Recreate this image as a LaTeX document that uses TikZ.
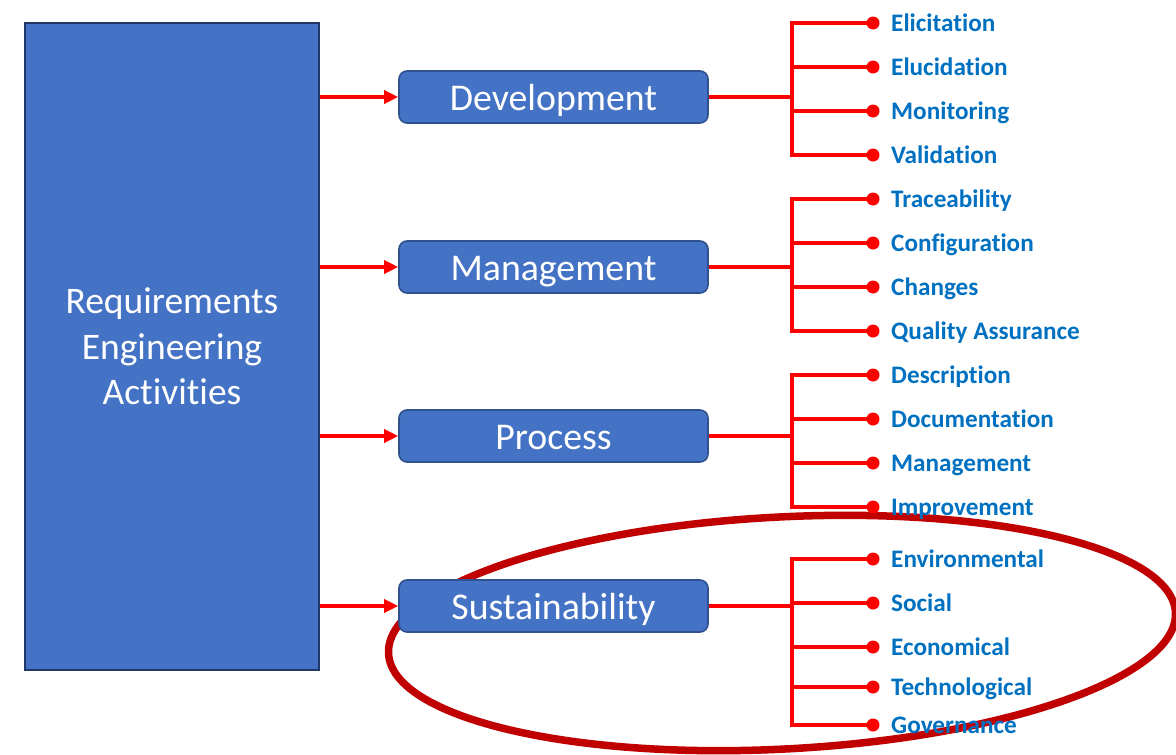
\documentclass[tikz,border=0pt]{standalone}
\usepackage{fontspec}
\setmainfont{Carlito}[Ligatures={NoCommon,NoContextual,NoRare}, Contextuals={NoAlternate}]
\usetikzlibrary{arrows.meta}
\definecolor{boxblue}{HTML}{4472C4}
\definecolor{boxedge}{HTML}{2F528F}
\definecolor{bigedge}{HTML}{1F3864}
\definecolor{leafblue}{HTML}{0070C0}
\definecolor{ringred}{HTML}{C00000}
\definecolor{linered}{HTML}{FF0000}
\tikzset{
  bigbox/.style={draw=bigedge, line width=2.4pt, fill=boxblue, text=white, minimum width=294, minimum height=647, inner sep=0pt, align=center, font=\fontsize{37.5}{45.5}\selectfont},
  midbox/.style={draw=boxedge, line width=1.6pt, fill=boxblue, text=white, rounded corners=8pt, minimum width=309, minimum height=52, inner sep=0pt, text height=30pt, text depth=3.4pt, font=\fontsize{37.8}{40}\selectfont},
  arr/.style={draw=linered, line width=3.4pt, -{Triangle[length=14pt,width=13pt]}},
  br/.style={draw=linered, line width=3.2pt},
  dot/.style={circle, fill=linered, minimum size=13pt, inner sep=0pt},
  leaf/.style={anchor=west, text=leafblue, inner sep=0pt, text height=18pt, text depth=2pt, font=\fontsize{25.2}{28}\selectfont\bfseries},
  ring/.style={draw=ringred, line width=7.5pt},
}
\begin{document}
\begin{tikzpicture}[x=1pt, y=-1pt]
\useasboundingbox (0,0) rectangle (1176,755);
% ring
\draw[ring, rotate around={3:(782,633)}] (782,633) ellipse [x radius=394, y radius=116];
% main box
\node[bigbox] (req) at (172,346.5) {Requirements\\Engineering\\Activities};
% middle boxes
\node[midbox] (dev) at (553.5,97) {Development};
\node[midbox] (man) at (553.5,267) {Management};
\node[midbox] (pro) at (553.5,436) {Process};
\node[midbox] (sus) at (553.5,606) {Sustainability};
% arrows
\foreach \b in {dev,man,pro,sus}{
  \draw[arr] (req.east |- \b.west) -- (\b.west);
}
% junctions
\coordinate (jdev) at (792,97);
\coordinate (jman) at (792,267);
\coordinate (jpro) at (792,436);
\coordinate (jsus) at (792,606);
\foreach \b in {dev,man,pro,sus}{
  \draw[br] (\b.east) -- (j\b);
}
% leaves
\foreach \g/\i/\y/\t in {
  dev/1/23/Elicitation, dev/2/67/Elucidation, dev/3/111/Monitoring, dev/4/155/Validation,
  man/1/199/Traceability, man/2/243/Configuration, man/3/287/Changes, man/4/331/Quality Assurance,
  pro/1/375/Description, pro/2/419/Documentation, pro/3/463/Management, pro/4/507/Improvement,
  sus/1/559/Environmental, sus/2/603/Social, sus/3/647/Economical, sus/4/687/Technological, sus/5/725/Governance}{
  \node[dot] (d\g\i) at (873,\y) {};
  \node[leaf] (l\g\i) at (891,\y) {\t};
  \draw[br] (j\g) |- (d\g\i.center);
}
\end{tikzpicture}
\end{document}
